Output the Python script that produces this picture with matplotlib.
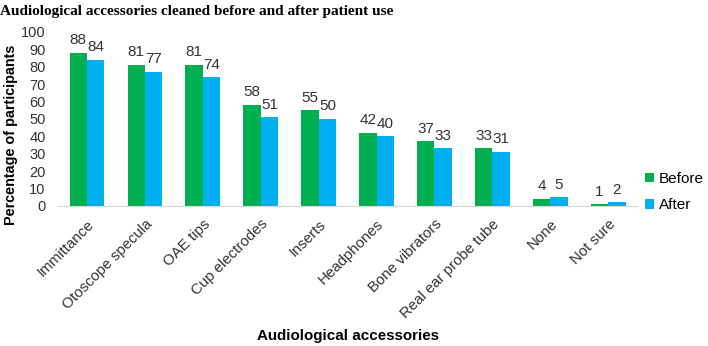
import numpy as np
import matplotlib
matplotlib.use("Agg")
from matplotlib import pyplot as plt

categories = ["Immittance", "Otoscope specula", "OAE tips", "Cup electrodes", "Inserts",
              "Headphones", "Bone vibrators", "Real ear probe tube", "None", "Not sure"]
before = [88, 81, 81, 58, 55, 42, 37, 33, 4, 1]
after = [84, 77, 74, 51, 50, 40, 33, 31, 5, 2]

green = "#00B050"
blue = "#00B0F0"

plt.rcParams['font.family'] = ['Liberation Sans', 'DejaVu Sans']

fig = plt.figure(figsize=(7.08, 3.46), dpi=100)
ax = fig.add_axes([0.082, 0.405, 0.818, 0.503])

x = np.arange(len(categories))
w = 0.3
b1 = ax.bar(x - w / 2, before, w, color=green, label="Before")
b2 = ax.bar(x + w / 2, after, w, color=blue, label="After")

for bars in (b1, b2):
    for r in bars:
        ax.annotate(str(int(r.get_height())), (r.get_x() + r.get_width() / 2, r.get_height()),
                    xytext=(0, 4), textcoords="offset points", ha="center", va="bottom",
                    fontsize=11, color="#333333")

ax.set_xlim(-0.5, len(categories) - 0.5)
ax.set_ylim(0, 100)
ax.set_yticks(range(0, 101, 10))
ax.tick_params(axis="y", length=0, labelsize=10.5, labelcolor="#333333", pad=9)
ax.tick_params(axis="x", length=0, labelsize=10.8, labelcolor="#333333", pad=8)
ax.set_xticks(x)
ax.set_xticklabels(categories, rotation=45, ha="right", rotation_mode="anchor")
for s in ("top", "right", "left"):
    ax.spines[s].set_visible(False)
ax.spines["bottom"].set_color("#d9d9d9")

ax.set_ylabel("Percentage of participants", fontsize=10.4, fontweight="bold")
ax.yaxis.set_label_coords(-0.069, 0.41)
ax.set_xlabel("Audiological accessories", fontsize=10.9, fontweight="bold")
ax.xaxis.set_label_coords(0.5, -0.71)

ax.legend(loc="center left", bbox_to_anchor=(0.99, 0.08), frameon=False, fontsize=11,
          handlelength=0.6, handleheight=0.6, handletextpad=0.3, labelspacing=0.8)

fig.text(0.0, 0.985, "Audiological accessories cleaned before and after patient use",
         family="Liberation Serif", fontweight="bold", fontsize=11, va="top", ha="left")

fig.savefig("out.png", dpi=100)
